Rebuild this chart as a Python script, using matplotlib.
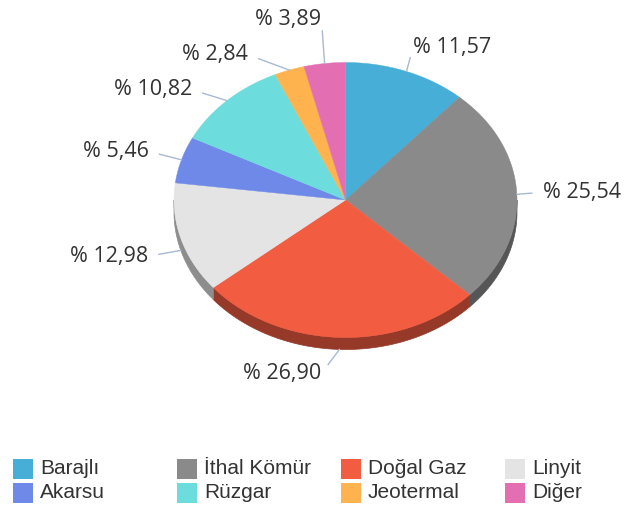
import numpy as np
import matplotlib
matplotlib.use("Agg")
import matplotlib.pyplot as plt
from matplotlib.patches import Polygon, Rectangle
from matplotlib.colors import to_rgb

# slice data (percent shares)
labels = ["Barajlı", "İthal Kömür", "Doğal Gaz", "Linyit",
          "Akarsu", "Rüzgar", "Jeotermal", "Diğer"]
values = [11.57, 25.54, 26.90, 12.98, 5.46, 10.82, 2.84, 3.89]
colors = ["#47aed8", "#8a8a8a", "#f25c40", "#e4e4e4",
          "#6e89e8", "#6cdcdc", "#feb34e", "#e36fb2"]

# pie geometry in pixel units
cx, cy = 345.5, 200.0
rx, ry = 171.5, 137.5
depth = 12.0
rxl, ryl = rx + 30, ry + 25


def rim(a0, a1, n=200, shift=0.0):
    t = np.radians(np.linspace(a0, a1, n))
    return np.column_stack([cx + rx * np.sin(t), cy - ry * np.cos(t) + shift])


def darker(c, f=0.62):
    return tuple(v * f for v in to_rgb(c))


fig = plt.figure(figsize=(6.27, 5.07), dpi=100)
ax = fig.add_axes([0, 0, 1, 1])
ax.set_xlim(0, 627)
ax.set_ylim(507, 0)
ax.axis("off")

vals = np.array(values)
edges = np.concatenate([[0], np.cumsum(vals) / vals.sum() * 360.0])

# side walls (front half only)
for i, c in enumerate(colors):
    a0, a1 = max(edges[i], 90), min(edges[i + 1], 270)
    if a1 <= a0:
        continue
    top = rim(a0, a1)
    bot = rim(a0, a1, shift=depth)[::-1]
    ax.add_patch(Polygon(np.vstack([top, bot]), closed=True, fc=darker(c),
                         ec=darker(c), lw=0.5, zorder=1))

# top faces
for i, c in enumerate(colors):
    pts = np.vstack([[cx, cy], rim(edges[i], edges[i + 1])])
    ax.add_patch(Polygon(pts, closed=True, fc=c, ec=c, lw=0.3, zorder=2))

# data labels
mids = (edges[:-1] + edges[1:]) / 2
items = []
for i, m in enumerate(mids):
    t = np.radians(m)
    low = np.cos(t) < 0
    dep = depth if low else 0.0
    side = 1 if np.sin(t) >= 0 and m < 180 else -1
    p = (cx + rx * np.sin(t), cy - ry * np.cos(t) + dep)
    yn = cy - ryl * np.cos(t) + dep
    items.append(dict(i=i, side=side, dep=dep, p=p, yn=yn))

spacing = 35.0
for s in (1, -1):
    grp = sorted([d for d in items if d["side"] == s], key=lambda d: d["yn"])
    clusters = [[d] for d in grp]
    changed = True
    while changed:
        changed = False
        for cl in clusters:
            mean = np.mean([d["yn"] for d in cl])
            n = len(cl)
            for k, d in enumerate(cl):
                d["y"] = mean + (k - (n - 1) / 2) * spacing
        for k in range(len(clusters) - 1):
            if clusters[k][-1]["y"] + spacing > clusters[k + 1][0]["y"]:
                clusters[k] = clusters[k] + clusters.pop(k + 1)
                changed = True
                break

for d in items:
    u = np.clip((d["y"] - d["dep"] - cy) / ryl, -1, 1)
    dx = max(rxl * np.sqrt(1 - u * u), 20.0)
    xt, yt = cx - 4 + d["side"] * dx, d["y"] - 1
    px, py = d["p"]
    vx, vy = xt - px, yt - py
    L = np.hypot(vx, vy)
    ex, ey = xt - vx / L * 11, yt - vy / L * 11
    ax.plot([px, ex], [py, ey], color="#a8b9d1", lw=1, zorder=3)
    txt = "% " + f"{values[d['i']]:.2f}".replace(".", ",")
    ax.text(xt, yt, txt, ha="left" if d["side"] > 0 else "right", va="center",
            fontsize=15.5, family="Open Sans", color="#333333", zorder=4)

# legend
for i, (lab, c) in enumerate(zip(labels, colors)):
    col, row = i % 4, i // 4
    x0 = 13 + col * 164
    yc = 469 + row * 24
    ax.add_patch(Rectangle((x0, yc - 10), 20, 20, fc=c, ec="none"))
    ax.text(x0 + 27, yc, lab, ha="left", va="center", fontsize=15,
            family="Liberation Sans", color="#333333")

fig.savefig("out.png", dpi=100, facecolor="white")
